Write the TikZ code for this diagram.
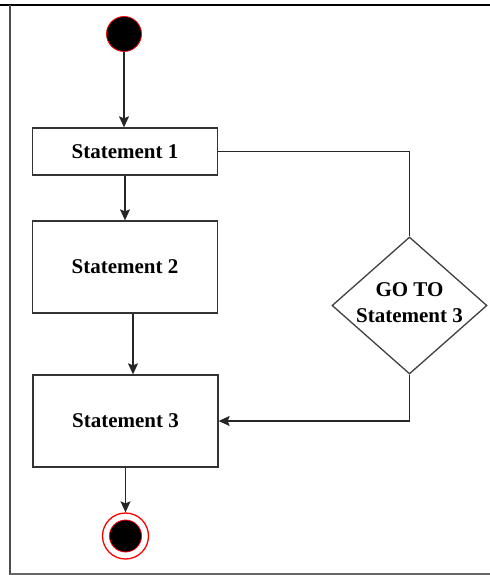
\documentclass[tikz,border=0pt]{standalone}
\usepackage{fontspec}
\setmainfont{Liberation Serif}
\usetikzlibrary{shapes.geometric,arrows.meta}
\tikzset{
  stmt/.style={draw=black!80, line width=1.3bp, rectangle, minimum width=185bp, inner sep=0pt,
    font=\bfseries\fontsize{21bp}{26bp}\selectfont},
  decis/.style={draw=black!75, line width=1.3bp, diamond, minimum width=155bp, minimum height=137bp, inner sep=0pt},
  dtext/.style={align=center, inner sep=0pt, font=\bfseries\fontsize{21bp}{26bp}\selectfont},
  conn/.style={draw=black!85, line width=1.3bp},
  arr/.style={conn, -{Stealth[length=11bp, width=10bp, inset=2bp]}},
  frame/.style={line width=1.5bp}
}
\begin{document}
\begin{tikzpicture}[x=1bp,y=-1bp]
\useasboundingbox (0,0) rectangle (490,575);
% frame
\draw[frame, black, line width=2bp] (0,5) -- (490,5);
\draw[frame, black!70] (10,5) -- (10,575);
\draw[frame, black!60] (10,574) -- (490,574);
% nodes
\node[circle, fill=black, draw=red, line width=0.8bp, minimum size=35bp, inner sep=0pt] (start) at (124,34) {};
\node[stmt, minimum height=47bp] (s1) at (125,151.5) {Statement 1};
\node[stmt, minimum height=92bp] (s2) at (125,267) {Statement 2};
\node[stmt, minimum height=92bp] (s3) at (125.5,421) {Statement 3};
\node[decis] (dia) at (409.5,305.5) {};
\node[dtext] (dtxt) at (409.5,303) {GO TO\\Statement 3};
\node[circle, draw=red, line width=1.3bp, minimum size=46bp, inner sep=0pt] (endo) at (125.5,536) {};
\node[circle, fill=black, draw=red, line width=0.8bp, minimum size=32bp, inner sep=0pt] (endi) at (125.5,536) {};
% connectors
\coordinate (c2) at ([xshift=8bp]s2.south);
\draw[arr] (start.south) -- (start.south |- s1.north);
\draw[arr] (s1.south) -- (s2.north);
\draw[arr] (c2) -- (c2 |- s3.north);
\draw[arr] (s3.south) -- (endo.north);
\draw[conn] (s1.east) -| (dia.north);
\draw[arr] (dia.south) |- (s3.east);
\end{tikzpicture}
\end{document}
